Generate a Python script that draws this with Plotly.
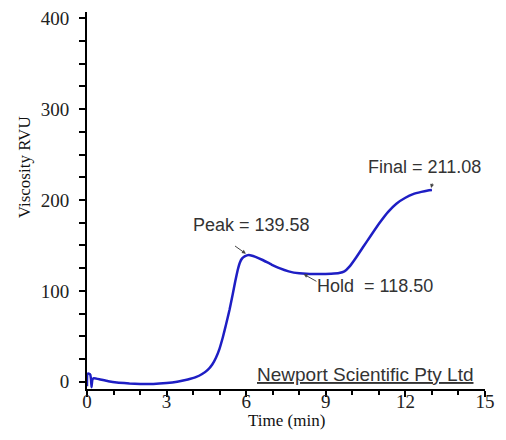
import plotly.graph_objects as go

# Pasting curve: time (min) vs viscosity (RVU)
time_min = [0.0, 0.01, 0.05, 0.12, 0.15, 0.17, 0.2, 0.26, 0.5, 0.8, 1.2, 1.6, 2.0, 2.5, 3.0,
            3.4, 3.8, 4.1, 4.34, 4.55, 4.72, 4.86, 4.99, 5.12, 5.24, 5.37, 5.49, 5.59, 5.68,
            5.76, 5.84, 5.94, 6.1, 6.35, 6.62, 6.95, 7.25, 7.6, 8.0, 8.4, 8.8, 9.2, 9.5, 9.7,
            9.9, 10.15, 10.4, 10.7, 11.03, 11.35, 11.66, 12.0, 12.29, 12.6, 12.85, 13.0]
viscosity = [-5, 8, 9, 8, 3, -6, 2, 4, 2.5, 0.5, -1, -2, -2.5, -2.5, -1.5,
             0, 2.5, 5, 8.5, 13, 19, 26.5, 36, 49, 63, 79, 96, 111, 123,
             131, 135.5, 138, 139.58, 137.5, 134, 129, 125, 121.5, 119.3, 118.7, 118.5, 119, 119.8, 121.5,
             127, 137, 148, 161, 175, 187, 196, 202.5, 206.5, 209, 210.5, 211.08]

peak_time, peak_value = 6.1, 139.58
hold_time, hold_value = 8.8, 118.50
final_time, final_value = 13.0, 211.08

x_ticks = [0, 3, 6, 9, 12, 15]
y_ticks = [0, 100, 200, 300, 400]

line_color = "#1e1ec4"
text_color = "#333333"
sans = "Liberation Sans, Arial, sans-serif"
serif = "Liberation Serif, Times New Roman, serif"

fig = go.Figure()
fig.add_trace(go.Scatter(x=time_min, y=viscosity, mode="lines",
                         line=dict(color=line_color, width=2.5, shape="spline", smoothing=0.3),
                         hoverinfo="skip", showlegend=False))

ann = []
# value labels
label_font = dict(family=sans, size=18, color=text_color)
ann.append(dict(x=6.2, y=173, xref="x", yref="y", text=f"Peak = {peak_value:.2f}",
                showarrow=False, font=label_font))
ann.append(dict(x=8.6, y=105, xref="x", yref="y", xanchor="left",
                text=f"Hold  = {hold_value:.2f}", showarrow=False, font=label_font))
ann.append(dict(x=12.72, y=236, xref="x", yref="y", xanchor="center",
                text=f"Final = {final_value:.2f}", showarrow=False, font=label_font))
ann.append(dict(x=10.46, y=8, xref="x", yref="y", text="<u>Newport Scientific Pty Ltd</u>",
                showarrow=False, font=dict(label_font, size=19)))

# pointer arrows
arrow = dict(xref="x", yref="y", text="", showarrow=True, arrowhead=2, arrowsize=0.8,
             arrowwidth=1, arrowcolor="#444444", standoff=2)
ann.append(dict(arrow, x=peak_time - 0.05, y=peak_value, ax=-14, ay=-10))
ann.append(dict(arrow, x=8.1, y=119.5, ax=16, ay=9))
ann.append(dict(arrow, x=final_time - 0.05, y=final_value, ax=2, ay=-8))

# axis titles
ann.append(dict(x=0.5, y=0, xref="paper", yref="paper", yshift=-31, yanchor="middle",
                text="Time (min)", showarrow=False, font=dict(family=serif, size=17, color="#111")))
ann.append(dict(x=0, y=0.588, xref="paper", yref="paper", xshift=-63, xanchor="center",
                yanchor="middle", textangle=-90,
                text="Viscosity RVU", showarrow=False, font=dict(family=serif, size=17, color="#111")))

fig.update_layout(
    width=506, height=440,
    margin=dict(l=87, r=21, t=8, b=51),
    paper_bgcolor="white", plot_bgcolor="white",
    annotations=ann,
)
fig.update_xaxes(range=[0, 15], tickvals=x_ticks, ticktext=[str(v) for v in x_ticks],
                 showline=True, linecolor="black", linewidth=2, showgrid=False, zeroline=False,
                 ticks="outside", ticklen=6, tickwidth=2, tickcolor="black",
                 minor=dict(dtick=1, ticks="outside", ticklen=4, tickwidth=1.5, tickcolor="black"),
                 ticklabelstandoff=-12,
                 tickfont=dict(family=serif, size=19, color="#222"))
fig.update_yaxes(range=[-8, 407], tickvals=y_ticks, ticktext=[str(v) for v in y_ticks],
                 showline=True, linecolor="black", linewidth=2, showgrid=False, zeroline=False,
                 ticks="outside", ticklen=6, tickwidth=2, tickcolor="black",
                 minor=dict(dtick=25, ticks="outside", ticklen=6, tickwidth=1.5, tickcolor="black"),
                 ticklabelstandoff=6,
                 tickfont=dict(family=serif, size=19, color="#222"))

fig.write_html("out.html")
